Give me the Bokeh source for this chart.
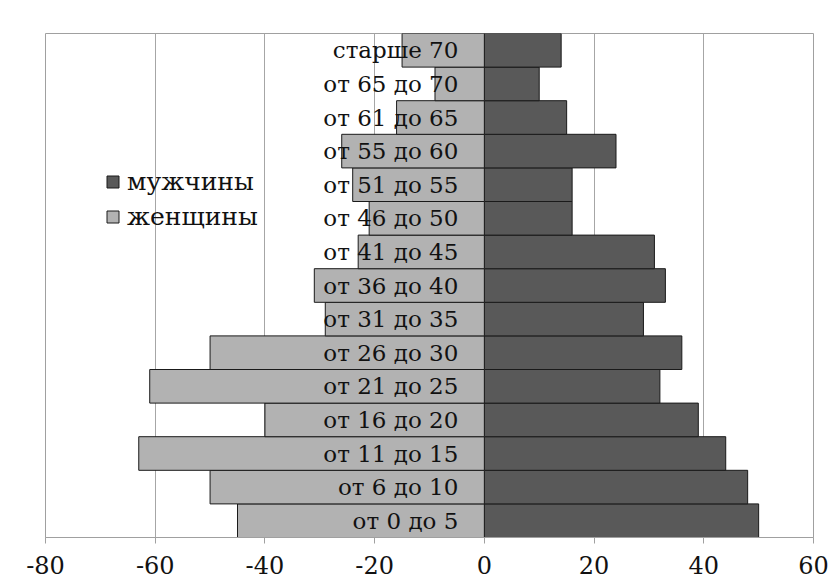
from bokeh.plotting import figure
from bokeh.models import FactorRange, ColumnDataSource, Legend, LegendItem, FixedTicker
from bokeh.core.properties import value
from bokeh.embed import file_html
from bokeh.resources import INLINE

categories = ["от 0 до 5", "от 6 до 10", "от 11 до 15", "от 16 до 20", "от 21 до 25",
              "от 26 до 30", "от 31 до 35", "от 36 до 40", "от 41 до 45", "от 46 до 50",
              "от 51 до 55", "от 55 до 60", "от 61 до 65", "от 65 до 70", "старше 70"]
men = [50, 48, 44, 39, 32, 36, 29, 33, 31, 16, 16, 24, 15, 10, 14]
women = [-45, -50, -63, -40, -61, -50, -29, -31, -23, -21, -24, -26, -16, -9, -15]
x_ticks = [-80, -60, -40, -20, 0, 20, 40, 60]
x_tick_labels = ["-80", "-60", "-40", "-20", "0", "20", "40", "60"]

FONT = "DejaVu Serif"
src = ColumnDataSource(dict(cat=categories, men=men, women=women, zero=[0] * len(categories)))

p = figure(width=840, height=584, output_backend="svg", toolbar_location=None,
           x_range=(-80, 60), y_range=FactorRange(*categories, range_padding=0),
           min_border_left=45, min_border_right=27, min_border_top=33, min_border_bottom=47)

p.outline_line_color = "#a0a0a0"
p.background_fill_color = "white"
p.border_fill_color = "white"

rm = p.hbar(y="cat", left=0, right="men", height=1.0, source=src,
            fill_color="#595959", line_color="#1a1a1a", line_width=1)
rw = p.hbar(y="cat", left="women", right=0, height=1.0, source=src,
            fill_color="#b2b2b2", line_color="#1a1a1a", line_width=1)

p.text(x="zero", y="cat", text="cat", source=src, x_offset=-26,
       text_align="right", text_baseline="middle",
       text_font=value(FONT), text_font_size="23px", text_color="#111111")

p.yaxis.visible = False
p.ygrid.grid_line_color = None
p.xgrid.grid_line_color = "#a6a6a6"
p.xaxis.ticker = FixedTicker(ticks=x_ticks)
p.xaxis.major_label_overrides = dict(zip(x_ticks, x_tick_labels))
p.xaxis.axis_line_color = "#a0a0a0"
p.xaxis.major_tick_line_color = "#a0a0a0"
p.xaxis.major_tick_out = 6
p.xaxis.major_tick_in = 0
p.xaxis.minor_tick_line_color = None
p.xaxis.major_label_text_font = FONT
p.xaxis.major_label_text_font_size = "24px"
p.xaxis.major_label_text_color = "#111111"
p.xaxis.major_label_standoff = 12

legend = Legend(items=[LegendItem(label="мужчины", renderers=[rm]),
                       LegendItem(label="женщины", renderers=[rw])],
                location=(60, 306), orientation="vertical")
legend.label_text_font = FONT
legend.label_text_font_size = "25px"
legend.label_text_color = "#111111"
legend.glyph_width = 15
legend.glyph_height = 15
legend.label_standoff = 7
legend.spacing = 6
legend.padding = 0
legend.margin = 0
legend.border_line_color = None
legend.background_fill_alpha = 0
p.add_layout(legend)

open("out.html", "w").write(file_html(p, INLINE))
